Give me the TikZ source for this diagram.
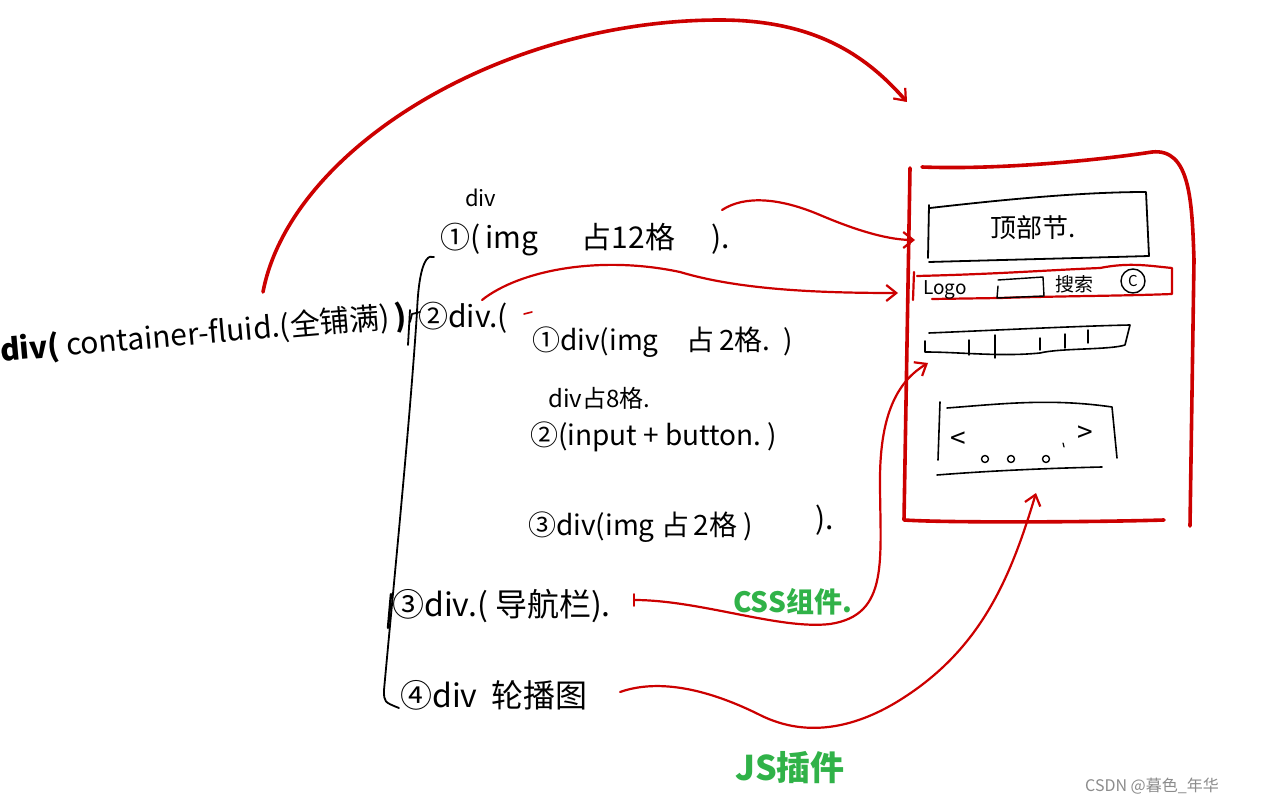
\documentclass[tikz,border=0pt]{standalone}
\usepackage{fontspec}
\setmainfont{Noto Sans CJK SC}
\usetikzlibrary{arrows.meta}
\definecolor{pen}{RGB}{204,0,0}
\definecolor{mark}{RGB}{48,178,72}
\tikzset{
  hand/.style={anchor=west,inner sep=0pt,font=\fontsize{#1}{#1}\selectfont},
  hand/.default=28,
  redpen/.style={draw=pen,line width=2.2pt,line cap=round,line join=round},
  redarrow/.style={redpen,-{Straight Barb[length=10pt,width=16pt,line width=2.2pt]}},
  blackpen/.style={draw=black,line width=1.8pt,line cap=round,line join=round},
  greentext/.style={anchor=west,inner sep=0pt,text=mark,font=\fontsize{#1}{#1}\selectfont\bfseries},
}
\begin{document}
\begin{tikzpicture}[x=1pt,y=-1pt]
\useasboundingbox[fill=white] (0,0) rectangle (1262,805);

% ---------- left texts ----------
\node[hand=30,rotate=5] (root) at (0,352) {\textbf{div(} container-fluid.(全铺满)\,\textbf{)}};
\node[hand=22] (divlbl) at (465,198) {div};
\node[hand=30] (n1) at (440,240) {①(\,img\quad\ \ 占12格\quad\ ).};
\node[hand=30] (n2) at (418,318) {②div.(};
\node[hand=28] (n21) at (532,342) {①div(img\quad 占\,2格.\ \ )};
\node[hand=24] (n22a) at (548,398) {div占8格.};
\node[hand=28] (n22) at (530,437) {②(input + button.\ )};
\node[hand=28] (n23) at (528,527) {③div(img\ 占\,2格\ )};
\node[hand=30] (n23b) at (815,520) {).};
\node[hand=32] (n3) at (392,606) {③div.(\ 导航栏).};
\node[hand=32] (n4) at (400,695) {④div\ \ 轮播图};
\node[greentext=28] (css) at (733,602) {CSS组件.};
\node[greentext=34] (js) at (735,768) {JS插件};
\node[anchor=west,inner sep=0pt,text=black!45,font=\fontsize{16}{16}\selectfont] (wm) at (1085,786) {CSDN @暮色\_年华};

% ---------- black bracket ----------
\coordinate (b0) at (434,257);
\coordinate (b1) at (417,312);
\coordinate (b2) at (384,690);
\coordinate (b3) at (399,708);
\draw[blackpen] (b0) .. controls (422,252) and (418,285) .. (b1)
  .. controls (410,420) and (396,560) .. (b2) .. controls (384,702) .. (b3);
\draw[blackpen] (410,322) -- (412,314) -- (420,312);
\draw[blackpen,line width=2.4pt] (391,594) -- (388,628);
\draw[blackpen] (410,310) -- (408,345);

% ---------- right mock-up ----------
% red outer frame
\draw[redpen,line width=3.6pt] (922,167) .. controls (1000,170) and (1100,160) .. (1152,152)
  .. controls (1190,148) and (1192,200) .. (1194,260) -- (1190,526);
\draw[redpen,line width=3.6pt] (910,168) -- (904,520) .. controls (950,523) and (1100,522) .. (1164,520);
% banner
\node[hand=26] (banner) at (990,228) {顶部节.};
\draw[blackpen] (929,205) -- (928,258);
\draw[blackpen] (930,208) .. controls (1000,200) and (1080,192) .. (1146,192) -- (1149,256)
  .. controls (1080,258) and (1000,260) .. (929,262);
% logo row
\draw[redpen] (914,272) -- (913,300);
\draw[redpen] (917,276) .. controls (1000,274) and (1050,270) .. (1100,268)
  .. controls (1130,262) and (1150,266) .. (1172,268) -- (1172,294)
  .. controls (1120,296) and (1060,296) .. (1000,298) -- (932,299);
\node[hand=19] (logo) at (923,290) {Logo};
\draw[blackpen,line width=1.4pt] (998,280) -- (1043,277) -- (1044,296) -- (997,298) -- (998,286);
\node[hand=19] (search) at (1055,284) {搜索};
\node[draw,circle,line width=1.4pt,inner sep=0pt,minimum size=24pt,font=\fontsize{15}{15}\selectfont] (cbtn) at (1133,281) {C};
% nav bar
\draw[blackpen,line width=1.6pt] (929,333) .. controls (1000,330) and (1080,326) .. (1130,325)
  -- (1125,345) .. controls (1110,350) and (1060,348) .. (1040,353)
  .. controls (1000,357) and (960,352) .. (925,352) -- (925,341);
\foreach \x/\a/\b in {969/340/355, 995/335/358, 1040/338/350, 1065/334/348, 1088/330/343}
  \draw[blackpen,line width=1.4pt] (\x,\a) -- (\x,\b);
% carousel
\draw[blackpen,line width=1.6pt] (947,408) .. controls (1000,404) and (1050,398) .. (1112,407) -- (1117,458);
\draw[blackpen,line width=1.6pt] (940,402) -- (938,460);
\draw[blackpen,line width=1.6pt] (937,475) .. controls (1000,470) and (1060,468) .. (1102,467);
\node[inner sep=0pt,font=\fontsize{28}{28}\selectfont] (prev) at (958,440) {<};
\node[inner sep=0pt,font=\fontsize{28}{28}\selectfont] (next) at (1085,434) {>};
\foreach \x in {985,1011,1046}
  \draw[blackpen,line width=1.4pt] (\x,459) circle (3.5pt);
\draw[blackpen,line width=1.2pt] (1063,443) -- (1064,447);

% ---------- red connectors ----------
\coordinate (a1s) at (263,292);
\coordinate (a1e) at (907,102);
\draw[redarrow,line width=3.6pt] (a1s) .. controls (290,150) and (500,20) .. (720,20)
  .. controls (820,20) and (870,60) .. (a1e);

\coordinate (a2s) at (722,210);
\coordinate (a2e) at (915,240);
\draw[redarrow] (a2s) .. controls (745,195) and (780,198) .. (820,215)
  .. controls (860,232) and (890,240) .. (a2e);

\coordinate (a3s) at (482,300);
\coordinate (a3e) at (898,293);
\draw[redarrow] (a3s) .. controls (520,270) and (600,255) .. (680,272)
  .. controls (740,290) and (820,293) .. (a3e);

\coordinate (a4s) at (634,600);
\coordinate (a4e) at (928,363);
\draw[redarrow] (a4s) .. controls (700,600) and (780,630) .. (830,624)
  .. controls (890,615) and (880,560) .. (880,480)
  .. controls (880,410) and (900,380) .. (a4e);
\draw[redpen,line width=1.6pt] (634,594) -- (634,606);

\coordinate (a5s) at (620,692);
\coordinate (a5e) at (1036,493);
\draw[redarrow] (a5s) .. controls (660,678) and (710,690) .. (760,715)
  .. controls (810,740) and (860,725) .. (900,700)
  .. controls (980,650) and (1010,580) .. (a5e);

\draw[redpen,line width=1.6pt] (524,314) -- (532,312);
\end{tikzpicture}
\end{document}
